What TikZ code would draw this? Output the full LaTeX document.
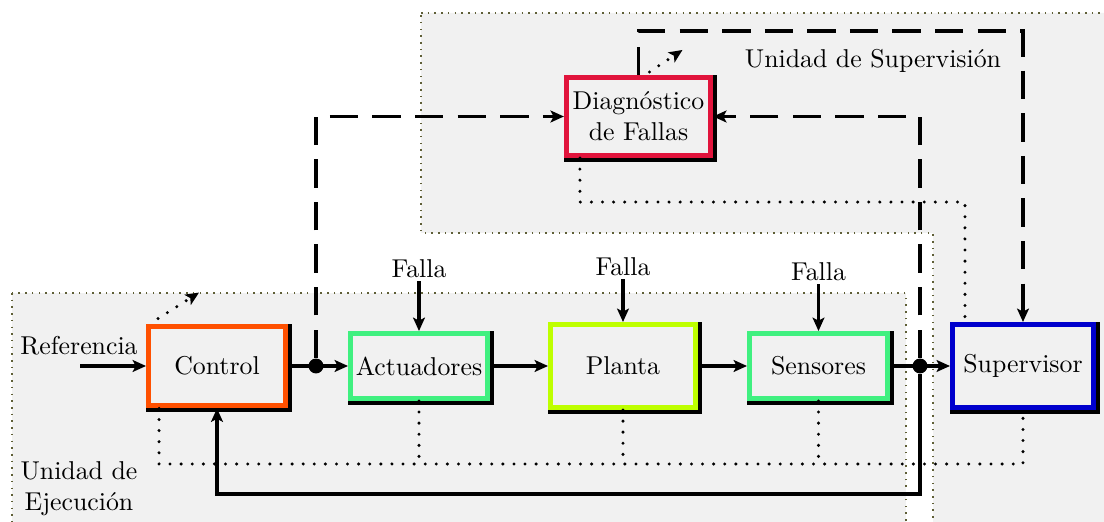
\documentclass[tikz,border=0pt]{standalone}
\usetikzlibrary{arrows.meta,calc}

\definecolor{regionfill}{RGB}{241,241,241}
\definecolor{regionline}{RGB}{95,95,55}
\definecolor{ctrlcol}{RGB}{255,80,0}
\definecolor{greencol}{RGB}{64,240,128}
\definecolor{limecol}{RGB}{190,255,0}
\definecolor{supcol}{RGB}{0,0,205}
\definecolor{diagcol}{RGB}{225,20,60}

\pgfdeclarelayer{regions}
\pgfdeclarelayer{shadows}
\pgfsetlayers{regions,shadows,main}

\begin{document}
\begin{tikzpicture}[x=0.3876pt,y=-0.3876pt,
  region/.style={fill=regionfill, draw=regionline, dotted, line width=0.6pt},
  block/.style={draw, line width=2pt, fill=regionfill, inner xsep=1.5pt, align=center},
  tip/.style={-{Stealth[length=5.2pt,width=4.6pt,inset=1.2pt]}},
  sig/.style={line width=1.3pt, tip},
  dashline/.style={line width=1.4pt, dash pattern=on 11pt off 5.5pt, tip},
  dots/.style={line width=1.3pt, line cap=round, dash pattern=on 0pt off 4.3pt},
  junction/.style={circle, fill=black, inner sep=0pt, minimum size=5.8pt},
  label/.style={inner sep=1pt}
]
\useasboundingbox (0,0) rectangle (1104,522);
\clip (0,0) rectangle (1104,522);

% shaded unit areas
\begin{pgfonlayer}{regions}
  \path[region] (12,293) rectangle (906,540);
  \path[region] (421,13) -- (1110,13) -- (1110,540) -- (933,540)
                -- (933,233) -- (421,233) -- cycle;
\end{pgfonlayer}

% blocks
\node[block, draw=ctrlcol,  minimum width=53pt,   minimum height=30.9pt] (ctrl)   at (217,366)   {Control};
\node[block, draw=greencol, minimum width=53pt,   minimum height=25.1pt, inner xsep=0.5pt] (act) at (419,366) {Actuadores};
\node[block, draw=limecol,  minimum width=56.1pt, minimum height=32.1pt] (planta) at (623,366)   {Planta};
\node[block, draw=greencol, minimum width=53.4pt, minimum height=25.1pt] (sens)   at (818.5,366) {Sensores};
\node[block, draw=supcol,   minimum width=54.6pt, minimum height=32.1pt] (sup)    at (1023,366)  {Supervisor};
\node[block, draw=diagcol,  minimum width=55.8pt, minimum height=30.2pt] (diag)   at (638.5,116.5) {Diagnóstico\\de Fallas};

% drop shadows
\begin{pgfonlayer}{shadows}
  \foreach \n in {ctrl,act,planta,sens,sup,diag}
    \fill[black] (\n.north west) rectangle ([shift={(4,4)}]\n.south east);
\end{pgfonlayer}

% texts
\node (ref) at (79,346) {Referencia};
\node[align=center] (ejec) at (79,489) {Unidad de\\Ejecución};
\node (superv) at (873,61) {Unidad de Supervisión};
\node[label] (f1) at (419,269)   {Falla};
\node[label] (f2) at (623,267)   {Falla};
\node[label] (f3) at (818.5,272) {Falla};

% junctions
\node[junction] (j1) at (316,366) {};
\node[junction] (j2) at (920,366) {};

\coordinate (refin) at (80,366);
\coordinate (bus) at (0,464);

% main signal path
\draw[sig] (refin) -- (ctrl);
\draw[sig] (ctrl) -- (act);
\draw[sig] (act) -- (planta);
\draw[sig] (planta) -- (sens);
\draw[sig] (sens) -- (sup);

% faults
\draw[sig] (f1) -- (act);
\draw[sig] (f2) -- (planta);
\draw[sig] (f3) -- (sens);

% feedback
\draw[sig] (j2) -- ++(0,128) -| (ctrl.south);

% signals to and from diagnosis
\draw[dashline] (j1) |- (diag.west);
\draw[dashline] (j2) |- (diag.east);
\draw[dashline] (diag.north) -- ++(0,-44) -| (sup.north);

% monitoring bus
\coordinate (cbus) at ($(ctrl.south west)+(13,0)$);
\draw[dots] (cbus) -- (cbus |- bus) -| (sup.south);
\draw[dots] (act.south) -- (act.south |- bus);
\draw[dots] (planta.south) -- (planta.south |- bus);
\draw[dots] (sens.south) -- (sens.south |- bus);

\coordinate (dbus) at ($(diag.south west)+(16,0)$);
\coordinate (sbus) at ($(sup.north west)+(15,0)$);
\draw[dots] (dbus) -- ++(0,44) -| (sbus);

% reconfiguration arrows
\coordinate (rc1) at ($(ctrl.north west)+(12,-5)$);
\coordinate (rc1e) at ($(rc1)+(41,-26)$);
\draw[dots, tip] (rc1) -- (rc1e);
\coordinate (rc2) at ($(diag.north)+(11,-3)$);
\coordinate (rc2e) at ($(rc2)+(33,-22)$);
\draw[dots, tip] (rc2) -- (rc2e);
\end{tikzpicture}
\end{document}
